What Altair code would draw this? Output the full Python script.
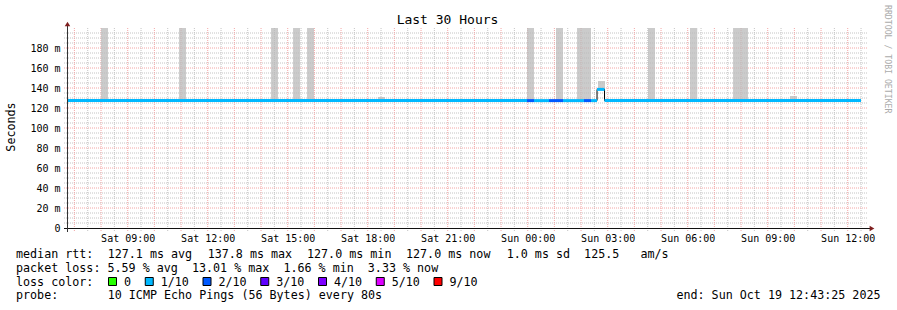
import altair as alt
import pandas as pd

FONT = "DejaVu Sans Mono"
RED = "#f3a6a6"
GRAY = "#c4c4c4"

# ---------------- data ----------------
start_time = "2025-10-18T06:43:25Z"
end_time = "2025-10-19T12:43:25Z"

# smoke (ping spread) bins, values in ms
smoke_start = ["2025-10-18T08:00:00Z", "2025-10-18T10:55:30Z", "2025-10-18T14:22:30Z",
               "2025-10-18T15:12:00Z", "2025-10-18T15:43:30Z", "2025-10-18T18:23:00Z",
               "2025-10-18T23:58:30Z", "2025-10-19T01:03:40Z", "2025-10-19T01:51:00Z",
               "2025-10-19T02:38:10Z", "2025-10-19T04:30:40Z", "2025-10-19T06:05:10Z",
               "2025-10-19T07:42:00Z", "2025-10-19T09:50:10Z"]
smoke_end = ["2025-10-18T08:15:40Z", "2025-10-18T11:11:10Z", "2025-10-18T14:38:10Z",
             "2025-10-18T15:27:40Z", "2025-10-18T15:59:10Z", "2025-10-18T18:38:50Z",
             "2025-10-19T00:14:10Z", "2025-10-19T01:19:25Z", "2025-10-19T02:22:25Z",
             "2025-10-19T02:53:55Z", "2025-10-19T04:46:25Z", "2025-10-19T06:21:30Z",
             "2025-10-19T08:15:40Z", "2025-10-19T10:06:00Z"]
smoke_low = [127.4, 127.4, 127.4, 127.4, 127.4, 127.4, 127.4,
             127.4, 127.4, 138.6, 127.4, 127.4, 127.4, 127.4]
smoke_high = [200, 200, 200, 200, 200, 131, 200,
              200, 200, 147, 200, 200, 200, 132]

# median rtt segments (ms) with loss class
seg_start = ["2025-10-18T06:43:25Z", "2025-10-18T23:58:30Z", "2025-10-19T00:14:10Z",
             "2025-10-19T00:47:55Z", "2025-10-19T01:19:25Z", "2025-10-19T02:06:40Z",
             "2025-10-19T02:22:25Z", "2025-10-19T02:36:00Z", "2025-10-19T02:52:50Z"]
seg_end = ["2025-10-18T23:58:30Z", "2025-10-19T00:14:10Z", "2025-10-19T00:47:55Z",
           "2025-10-19T01:19:25Z", "2025-10-19T02:06:40Z", "2025-10-19T02:22:25Z",
           "2025-10-19T02:36:00Z", "2025-10-19T02:52:50Z", "2025-10-19T12:29:55Z"]
seg_median = [127.4, 127.4, 127.4, 127.4, 127.4, 127.4, 127.4, 138.6, 127.4]
seg_loss = ["1/10", "2/10", "1/10", "2/10", "1/10", "2/10", "1/10", "1/10", "1/10"]

loss_labels = ["0", "1/10", "2/10", "3/10", "4/10", "5/10", "9/10"]
loss_colors = ["#26ff00", "#00b8ff", "#0059ff", "#5e00ff", "#7e00ff", "#dd00ff", "#ff0000"]

title_text = "Last 30 Hours"
y_title = "Seconds"
side_text = "RRDTOOL / TOBI OETIKER"
rtt_items = ["median rtt:", "127.1 ms avg", "137.8 ms max", "127.0 ms min",
             "127.0 ms now", "1.0 ms sd  125.5   am/s"]
loss_line = "packet loss: 5.59 % avg  13.01 % max  1.66 % min  3.33 % now"
color_line = "loss color:"
probe_label = "probe:"
probe_text = "10 ICMP Echo Pings (56 Bytes) every 80s"
end_text = "end: Sun Oct 19 12:43:25 2025"

# ---------------- layout helpers ----------------
L, T = 67, 28  # plot origin in page pixels


def ms(t):
    return int(pd.Timestamp(t).value // 10**6)


half_hours = pd.date_range("2025-10-18T07:00:00Z", "2025-10-19T12:30:00Z", freq="30min")
grid_x_major = [t.isoformat() for t in half_hours if t.minute == 0]
grid_x_minor = [t.isoformat() for t in half_hours if t.minute != 0]
label_x = [ms(t) for t in half_hours if t.minute == 0 and t.hour % 3 == 0]
grid_y_major = [v for v in range(20, 200, 20)]
grid_y_minor = [v for v in range(5, 200, 5) if v % 20 != 0]

xs = alt.Scale(type="utc", domain=[ms(start_time), ms(end_time)])
ys = alt.Scale(domain=[0, 200], nice=False, zero=True)

x_axis = alt.Axis(
    title=None, values=label_x, grid=False, ticks=False, domain=False,
    labelExpr="utcFormat(datum.value, '%a %H:%M')",
    labelFont=FONT, labelFontSize=10, labelColor="black", labelPadding=5,
    labelOverlap=False, labelFlush=False, labelBound=False,
)
y_axis = alt.Axis(
    title=None, values=list(range(0, 200, 20)), grid=False, ticks=False, domain=False,
    labelExpr="datum.value == 0 ? '0\u00a0\u00a0' : datum.value + '\u00a0m'",
    labelFont=FONT, labelFontSize=10, labelColor="black", labelPadding=7,
    labelOverlap=False, labelFlush=False, labelBound=False,
)

one = alt.Data(values=[{}])


def nb(s):
    return s.replace(" ", "\u00a0")


def text_layer(txt, x, y, size=11.7, align="left", angle=0, color="black", baseline="alphabetic"):
    return alt.Chart(one).mark_text(
        text=nb(txt), font=FONT, fontSize=size, align=align, baseline=baseline,
        angle=angle, color=color,
    ).encode(x=alt.value(x - L), y=alt.value(y - T))


def vgrid(times, color):
    return alt.Chart(pd.DataFrame({"t": times})).mark_rule(
        color=color, strokeWidth=1, strokeDash=[1, 1]).encode(
        x=alt.X("t:T", scale=xs, axis=x_axis), y=alt.value(0), y2=alt.value(203))


def hgrid(vals, color):
    return alt.Chart(pd.DataFrame({"v": vals})).mark_rule(
        color=color, strokeWidth=1, strokeDash=[1, 1]).encode(
        y=alt.Y("v:Q", scale=ys, axis=y_axis), x=alt.value(-3), x2=alt.value(800))


smoke_df = pd.DataFrame({"start": smoke_start, "end": smoke_end,
                         "low": smoke_low, "high": smoke_high})
seg_df = pd.DataFrame({"start": seg_start, "end": seg_end,
                       "median": seg_median, "loss": seg_loss})
step_df = pd.DataFrame({"time": seg_start + [seg_end[-1]],
                        "median": seg_median + [seg_median[-1]]})

smoke = alt.Chart(smoke_df).mark_rect(color="#b9b9b9", opacity=0.75, clip=True).encode(
    x=alt.X("start:T", scale=xs, axis=x_axis), x2="end:T",
    y=alt.Y("low:Q", scale=ys, axis=y_axis), y2="high:Q",
)
step = alt.Chart(step_df).mark_line(interpolate="step-after", color="black", strokeWidth=1).encode(
    x=alt.X("time:T", scale=xs, axis=x_axis),
    y=alt.Y("median:Q", scale=ys, axis=y_axis),
)
median = alt.Chart(seg_df).mark_rule(strokeWidth=3).encode(
    x=alt.X("start:T", scale=xs, axis=x_axis), x2="end:T",
    y=alt.Y("median:Q", scale=ys, axis=y_axis),
    color=alt.Color("loss:N", scale=alt.Scale(domain=loss_labels, range=loss_colors), legend=None),
)

x_line = alt.Chart(one).mark_rule(color="#111", strokeWidth=1).encode(
    x=alt.value(-3), x2=alt.value(803), y=alt.value(200.5))
y_line = alt.Chart(one).mark_rule(color="#333", strokeWidth=1).encode(
    x=alt.value(0.5), y=alt.value(204), y2=alt.value(-5))
arrow_up = alt.Chart(one).mark_point(shape="triangle-up", filled=True, size=30,
                                      color="#7f1f1f", opacity=1).encode(
    x=alt.value(0.5), y=alt.value(-4))
arrow_right = alt.Chart(one).mark_point(shape="triangle-right", filled=True, size=30,
                                         color="#7f1f1f", opacity=1).encode(
    x=alt.value(805), y=alt.value(200.5))

layers = [vgrid(grid_x_minor, GRAY), hgrid(grid_y_minor, GRAY),
          vgrid(grid_x_major, RED), hgrid(grid_y_major, RED),
          smoke, step, median, x_line, y_line, arrow_up, arrow_right]

# titles
layers.append(text_layer(title_text, 447.5, 24, size=13, align="center"))
layers.append(text_layer(y_title, 11, 127, size=11.7, align="center", angle=270, baseline="middle"))
layers.append(text_layer(side_text, 887, 5, size=8.2, align="left", angle=90,
                         baseline="middle", color="#ababab"))

# legend lines
rtt_x = [16, 107.7, 207.7, 307, 406, 506.7]
for txt, xp in zip(rtt_items, rtt_x):
    layers.append(text_layer(txt, xp, 258.3))
layers.append(text_layer(loss_line, 16, 272.1))
layers.append(text_layer(color_line, 16, 285.6))
layers.append(text_layer(probe_label, 16, 299.3))
layers.append(text_layer(probe_text, 107.7, 299.3))
layers.append(text_layer(end_text, 880.5, 299.3, align="right"))

pos = 108.5
for lab, col in zip(loss_labels, loss_colors):
    layers.append(alt.Chart(one).mark_rect(color=col, stroke="black", strokeWidth=1).encode(
        x=alt.value(pos - L), x2=alt.value(pos + 8 - L),
        y=alt.value(277.5 - T), y2=alt.value(285.5 - T)))
    layers.append(text_layer(lab, pos + 15.5, 285.6))
    pos += (len(lab) + 4.25) * 7.0

chart = alt.layer(*layers).properties(
    width=800, height=200,
    padding={"left": L, "top": T, "right": 30, "bottom": 82},
    autosize=alt.AutoSizeParams(type="none"),
    background="white",
).configure_view(stroke=None)

chart.save("out.html", embed_options={"renderer": "svg", "actions": False})
